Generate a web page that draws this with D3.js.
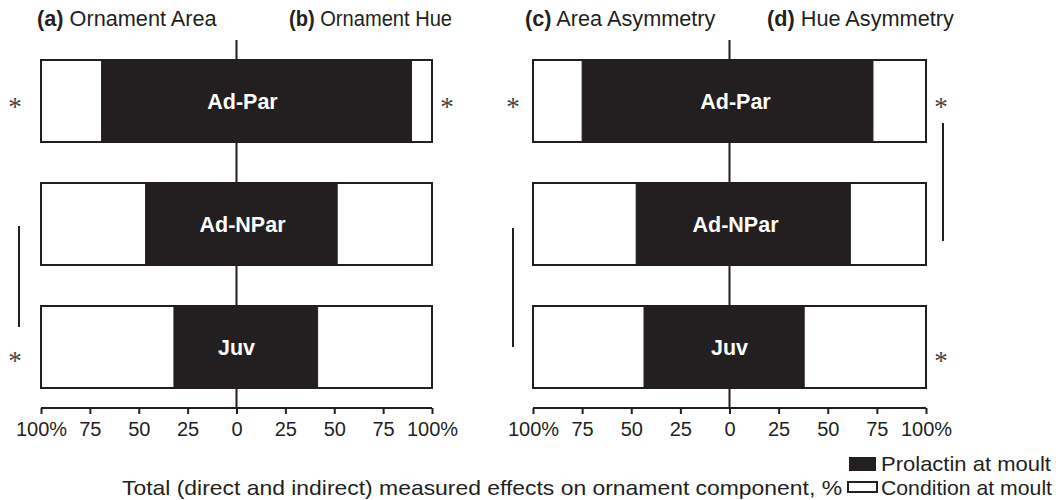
<!DOCTYPE html>
<html>
<head>
<meta charset="utf-8">
<script src="https://cdn.jsdelivr.net/npm/d3@7"></script>
<style>
  body { margin: 0; background: #fff; }
  svg { display: block; }
  text { font-family: "Liberation Sans", Arial, Helvetica, sans-serif; fill: #231f20; }
</style>
</head>
<body>
<svg id="chart" width="1056" height="500"></svg>
<script>
// ---- data ----
const categories = ["Ad-Par", "Ad-NPar", "Juv"];
// prolactin share (%) of total measured effect; condition = 100 - prolactin
const areaProlactin     = [69, 46.5, 32];     // (a) Ornament Area  (left half, panel 1)
const hueProlactin      = [89.5, 51.5, 41.5]; // (b) Ornament Hue   (right half, panel 1)
const areaAsymProlactin = [75, 47.5, 43.5];   // (c) Area Asymmetry (left half, panel 2)
const hueAsymProlactin  = [73, 61.5, 38];     // (d) Hue Asymmetry  (right half, panel 2)
const tickValues = [-100, -75, -50, -25, 0, 25, 50, 75, 100];
const tickLabels = ["100%", "75", "50", "25", "0", "25", "50", "75", "100%"];
const titles = [["(a)", " Ornament Area"], ["(b)", " Ornament Hue"], ["(c)", " Area Asymmetry"], ["(d)", " Hue Asymmetry"]];
// significance asterisks: [panel, side, category]
const asterisks = [[0, "L", "Ad-Par"], [0, "L", "Juv"], [0, "R", "Ad-Par"], [1, "L", "Ad-Par"], [1, "R", "Ad-Par"], [1, "R", "Juv"]];
// significance lines: [panel, side, fromCategory, toCategory]
const sigLines = [[0, "L", "Ad-NPar", "Juv"], [1, "L", "Ad-NPar", "Juv"], [1, "R", "Ad-Par", "Ad-NPar"]];
const legendItems = ["Prolactin at moult", "Condition at moult"];
const axisTitle = "Total (direct and indirect) measured effects on ornament component, %";

const ink = "#231f20";
const svg = d3.select("#chart");

const y = d3.scaleBand().domain(categories).range([39.5, 408.5]).paddingInner(1/3).paddingOuter(1/6);
const axisY = 408;

const panels = [
  { range: [41, 432], left: areaProlactin, right: hueProlactin },
  { range: [533, 926], left: areaAsymProlactin, right: hueAsymProlactin }
];

panels.forEach((p, pi) => {
  const x = d3.scaleLinear().domain([-100, 100]).range(p.range);
  p.x = x;
  const g = svg.append("g");

  // centre line
  g.append("line").attr("x1", x(0)).attr("x2", x(0)).attr("y1", 40).attr("y2", axisY)
    .attr("stroke", ink).attr("stroke-width", 2);

  categories.forEach((c, i) => {
    // white condition box (full extent)
    g.append("rect").attr("x", x(-100)).attr("y", y(c)).attr("width", x(100) - x(-100)).attr("height", y.bandwidth())
      .attr("fill", "#fff").attr("stroke", ink).attr("stroke-width", 2);
    // black prolactin portion
    g.append("rect").attr("x", x(-p.left[i])).attr("y", y(c))
      .attr("width", x(p.right[i]) - x(-p.left[i])).attr("height", y.bandwidth())
      .attr("fill", ink).attr("stroke", ink).attr("stroke-width", 1);
    g.append("text").attr("x", x(0) + (c === "Juv" ? 0 : 6)).attr("y", y(c) + y.bandwidth() / 2)
      .attr("dy", "0.36em").attr("text-anchor", "middle").attr("font-weight", "bold")
      .attr("font-size", 21.5).style("fill", "#fff").text(c);
  });

  // axis
  const axis = d3.axisBottom(x).tickValues(tickValues).tickFormat((d, i) => tickLabels[i]).tickSize(6).tickPadding(8);
  const ag = g.append("g").attr("transform", `translate(0,${axisY})`).call(axis);
  ag.attr("font-family", null).attr("font-size", null);
  ag.select(".domain").attr("stroke", ink).attr("stroke-width", 2).attr("d", `M${x(-100)},0H${x(100)}`);
  ag.selectAll(".tick line").attr("stroke", ink).attr("stroke-width", 2);
  ag.selectAll(".tick text").attr("font-size", 20).style("fill", ink);
});

// titles
const titlePos = [[37, 26], [289, 26], [525, 26], [767, 26]];
titles.forEach((t, i) => {
  const tx = svg.append("text").attr("x", titlePos[i][0]).attr("y", titlePos[i][1]).attr("font-size", 21.7);
  if (i === 1) tx.attr("textLength", 163).attr("lengthAdjust", "spacingAndGlyphs");
  tx.append("tspan").attr("font-weight", "bold").text(t[0]);
  tx.append("tspan").text(t[1]);
});

// asterisks
asterisks.forEach(([pi, side, c]) => {
  const x = panels[pi].x;
  const xx = side === "L" ? (pi === 0 ? x(-100) - 26 : x(-100) - 20) : x(100) + 15;
  const off = c === "Juv" ? 11 : 3;
  svg.append("text").attr("x", xx).attr("y", y(c) + y.bandwidth() / 2 + off + 12)
    .attr("text-anchor", "middle").attr("font-size", 27).style("fill", "#444")
    .style("font-family", "'Liberation Serif', 'Times New Roman', serif").text("*");
});

// significance lines
sigLines.forEach(([pi, side, c1, c2]) => {
  const x = panels[pi].x;
  const xx = side === "L" ? (pi === 0 ? x(-100) - 22 : x(-100) - 20) : x(100) + 17;
  let y1 = y(c1) + y.bandwidth() / 2, y2 = y(c2) + y.bandwidth() / 2;
  if (pi === 0) { y1 += 2; y2 -= 20; }
  else if (side === "L") { y1 += 4; }
  else { y1 += 22; y2 += 17; }
  svg.append("line").attr("x1", xx).attr("x2", xx).attr("y1", y1).attr("y2", y2)
    .attr("stroke", ink).attr("stroke-width", 2);
});

// legend
svg.append("rect").attr("x", 849).attr("y", 457).attr("width", 27).attr("height", 14).attr("fill", ink);
svg.append("rect").attr("x", 848).attr("y", 482).attr("width", 29).attr("height", 10).attr("fill", "#fff")
  .attr("stroke", ink).attr("stroke-width", 2);
svg.append("text").attr("x", 881).attr("y", 471).attr("font-size", 21).attr("textLength", 170).attr("lengthAdjust", "spacingAndGlyphs").text(legendItems[0]);
svg.append("text").attr("x", 881).attr("y", 495).attr("font-size", 21).attr("textLength", 171).attr("lengthAdjust", "spacingAndGlyphs").text(legendItems[1]);

// axis title
svg.append("text").attr("x", 122).attr("y", 495).attr("font-size", 21).attr("textLength", 720).attr("lengthAdjust", "spacingAndGlyphs").text(axisTitle);
</script>
</body>
</html>
